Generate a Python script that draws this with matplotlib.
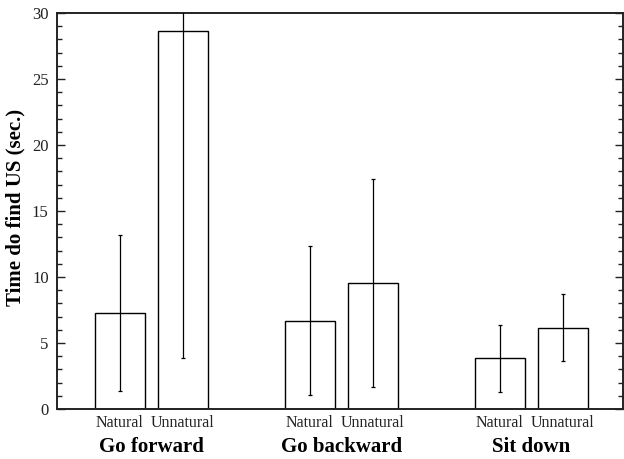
import matplotlib
matplotlib.use("Agg")
import matplotlib.pyplot as plt
import numpy as np
from matplotlib.ticker import MultipleLocator

plt.rcParams["font.family"] = ["Liberation Serif", "DejaVu Serif"]

groups = ["Go forward", "Go backward", "Sit down"]
conditions = ["Natural", "Unnatural"]
means = [7.3, 28.6, 6.7, 9.55, 3.85, 6.15]
errors = [5.9, 24.7, 5.65, 7.9, 2.55, 2.55]

n_groups = len(groups)
offset = 0.166
width = 0.263
centers = np.arange(n_groups)
xs = []
for c in centers:
    xs += [c - offset, c + offset]
xs = np.array(xs)

fig = plt.figure(figsize=(6.24, 4.59), dpi=100)
ax = fig.add_axes([57 / 624, 50 / 459, 566 / 624, 396 / 459])

ax.bar(xs, means, width=width, color="white", edgecolor="black", linewidth=1.0, zorder=2)
ax.errorbar(xs, means, yerr=errors, fmt="none", ecolor="black", elinewidth=0.9,
            capsize=1.5, capthick=0.9, zorder=3)

ax.set_xlim(-0.497, 2.483)
ax.set_ylim(0, 30)
ax.yaxis.set_major_locator(MultipleLocator(5))
ax.yaxis.set_minor_locator(MultipleLocator(1))
ax.tick_params(axis="y", which="both", direction="in", left=True, right=True,
               labelsize=12, colors="#222222", width=1.0)
ax.tick_params(axis="y", which="major", length=6)
ax.tick_params(axis="y", which="minor", length=3.5)
ax.tick_params(axis="y", pad=6)

ax.set_xticks(xs)
ax.set_xticklabels(conditions * n_groups, fontsize=11.5)
ax.tick_params(axis="x", length=0, pad=4, colors="#222222")

for c, g in zip(centers, groups):
    ax.text(c, -0.07, g, transform=ax.get_xaxis_transform(), ha="center", va="top",
            fontsize=15, fontweight="bold")

ax.set_ylabel("Time do find US (sec.)", fontsize=15, fontweight="bold")
ax.yaxis.set_label_coords(-0.056, 0.51)

for side in ["left", "bottom", "top", "right"]:
    ax.spines[side].set_linewidth(1.4)
    ax.spines[side].set_color("#222222")

fig.savefig("out.png", dpi=100)
